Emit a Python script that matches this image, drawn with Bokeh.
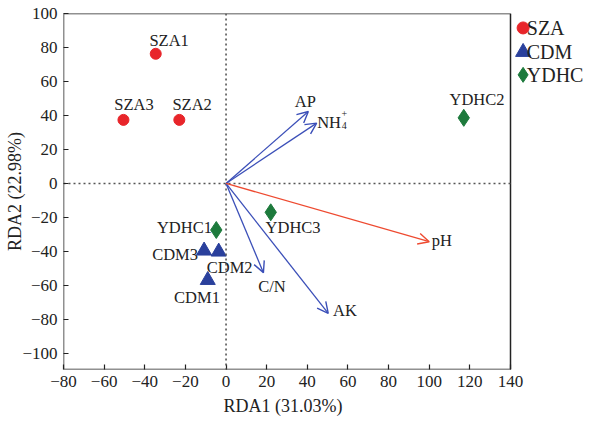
from bokeh.plotting import figure
from bokeh.models import Span, Arrow, OpenHead, FixedTicker, Title
from bokeh.core.properties import value
from bokeh.embed import file_html
from bokeh.resources import INLINE

FONT = "Liberation Serif"

# sample scores
sza_names = ["SZA1", "SZA2", "SZA3"]
sza_x = [-34.6, -23.0, -50.5]
sza_y = [76.3, 37.4, 37.4]
sza_lx = [-28.0, -16.7, -45.3]
sza_ly = [84.0, 46.3, 46.3]

cdm_names = ["CDM1", "CDM2", "CDM3"]
cdm_x = [-9.0, -3.6, -10.8]
cdm_y = [-56.9, -40.2, -39.6]
cdm_lx = [-14.3, 1.8, -25.1]
cdm_ly = [-67.1, -49.4, -42.1]

ydhc_names = ["YDHC1", "YDHC2", "YDHC3"]
ydhc_x = [-4.8, 117.0, 22.0]
ydhc_y = [-27.4, 38.6, -17.0]
ydhc_lx = [-20.5, 123.5, 33.0]
ydhc_ly = [-26.0, 49.2, -26.2]

# environmental vectors
env_names = ["AP", "NH", "C/N", "AK", "pH"]
env_x = [40.5, 44.6, 18.4, 50.3, 100.0]
env_y = [42.3, 35.5, -52.5, -76.5, -34.3]
env_lx = [39.0, 50.7, 22.6, 58.5, 106.2]
env_ly = [48.2, 35.8, -60.8, -74.5, -33.3]
env_colors = ["#3b4fb8", "#3b4fb8", "#3b4fb8", "#3b4fb8", "#ee4a30"]

x_ticks = [-80, -60, -40, -20, 0, 20, 40, 60, 80, 100, 120, 140]
y_ticks = [-100, -80, -60, -40, -20, 0, 20, 40, 60, 80, 100]

# axis box limits
X_MIN, X_MAX = -80, 140
Y_MIN, Y_MAX = -109.5, 100

legend_labels = ["SZA", "CDM", "YDHC"]
legend_markers = ["circle", "triangle", "diamond"]
legend_sizes = [12, 15, 15]
legend_y = [91.5, 77.3, 63.9]
legend_mx = 146.2
legend_tx = 148.0

RED = "#e8252a"
BLUE = "#2a409c"
GREEN = "#1d7a3c"
legend_colors = [RED, BLUE, GREEN]

FRAME_W = 527
PLOT_W = 447
x_end = X_MIN + (X_MAX - X_MIN) * FRAME_W / PLOT_W

p = figure(frame_width=FRAME_W, frame_height=356, x_range=(X_MIN, x_end), y_range=(Y_MIN, Y_MAX),
           output_backend="svg", toolbar_location=None,
           min_border_left=63, min_border_right=0, min_border_top=13, min_border_bottom=54)
p.grid.visible = False
p.outline_line_color = None
p.background_fill_color = "white"
p.border_fill_color = "white"

for ax in (p.xaxis[0], p.yaxis[0]):
    ax.axis_line_color = None
    ax.major_tick_in = 5
    ax.major_tick_out = 0
    ax.major_tick_line_color = "#222222"
    ax.major_tick_line_width = 1.2
    ax.minor_tick_line_color = None
    ax.major_label_text_font = FONT
    ax.major_label_text_font_size = "17px"
    ax.major_label_text_color = "#222222"
    ax.axis_label_text_font = FONT
    ax.axis_label_text_font_size = "18px"
    ax.axis_label_text_font_style = "normal"
    ax.axis_label_text_color = "#222222"

p.xaxis.ticker = FixedTicker(ticks=x_ticks)
p.yaxis.ticker = FixedTicker(ticks=y_ticks)
p.xaxis.major_label_overrides = {t: str(t).replace("-", "\u2212") for t in x_ticks}
p.yaxis.major_label_overrides = {t: str(t).replace("-", "\u2212") for t in y_ticks}
p.yaxis.axis_label = "RDA2 (22.98%)"
p.xaxis.major_label_standoff = 6
p.yaxis.major_label_standoff = 6
p.yaxis.axis_label_standoff = -6

# x-axis title, centred under the box (not the whole frame)
p.add_layout(Title(text="RDA1 (31.03%)", align="left", offset=160, standoff=8,
                   text_font=FONT, text_font_size="18px", text_font_style="normal",
                   text_color="#222222"), "below")

# box
p.quad(left=[X_MIN], right=[X_MAX], bottom=[Y_MIN], top=[Y_MAX], fill_color=None,
       line_color="#222222", line_width=1.5)

p.segment(x0=[X_MIN], y0=[0], x1=[X_MAX], y1=[0], line_color="#555555",
          line_dash="2 3", line_width=1.6)
p.add_layout(Span(location=0, dimension="height", line_color="#555555",
                  line_dash="2 3", line_width=1.6))

for ex, ey, ec in zip(env_x, env_y, env_colors):
    p.add_layout(Arrow(end=OpenHead(size=11, line_color=ec, line_width=1.4),
                       x_start=0, y_start=0, x_end=ex, y_end=ey,
                       line_color=ec, line_width=1.3))

p.scatter(sza_x, sza_y, marker="circle", size=11, fill_color=RED, line_color=RED)
p.scatter(cdm_x, cdm_y, marker="triangle", size=15, fill_color=BLUE, line_color=BLUE)
p.scatter(ydhc_x, ydhc_y, marker="diamond", size=17, fill_color=GREEN, line_color=GREEN)

txt = dict(text_font=value(FONT), text_font_size="16.5px", text_color="#222222",
           text_align="center", text_baseline="middle")
p.text(sza_lx, sza_ly, text=sza_names, **txt)
p.text(cdm_lx, cdm_ly, text=cdm_names, **txt)
p.text(ydhc_lx, ydhc_ly, text=ydhc_names, **txt)
p.text(env_lx, env_ly, text=env_names, **txt)
# NH4+ super/subscript
p.text([58.2], [41.4], text=["+"], text_font=value(FONT), text_font_size="10px",
       text_color="#222222", text_align="center", text_baseline="middle")
p.text([58.2], [34.0], text=["4"], text_font=value(FONT), text_font_size="10px",
       text_color="#222222", text_align="center", text_baseline="middle")

# legend
p.scatter([legend_mx] * 3, legend_y, marker=legend_markers, size=legend_sizes,
          fill_color=legend_colors, line_color=legend_colors)
p.text([legend_tx] * 3, legend_y, text=legend_labels, text_font=value(FONT),
       text_font_size="20px", text_color="#222222", text_align="left",
       text_baseline="middle")

open("out.html", "w").write(file_html(p, INLINE))
